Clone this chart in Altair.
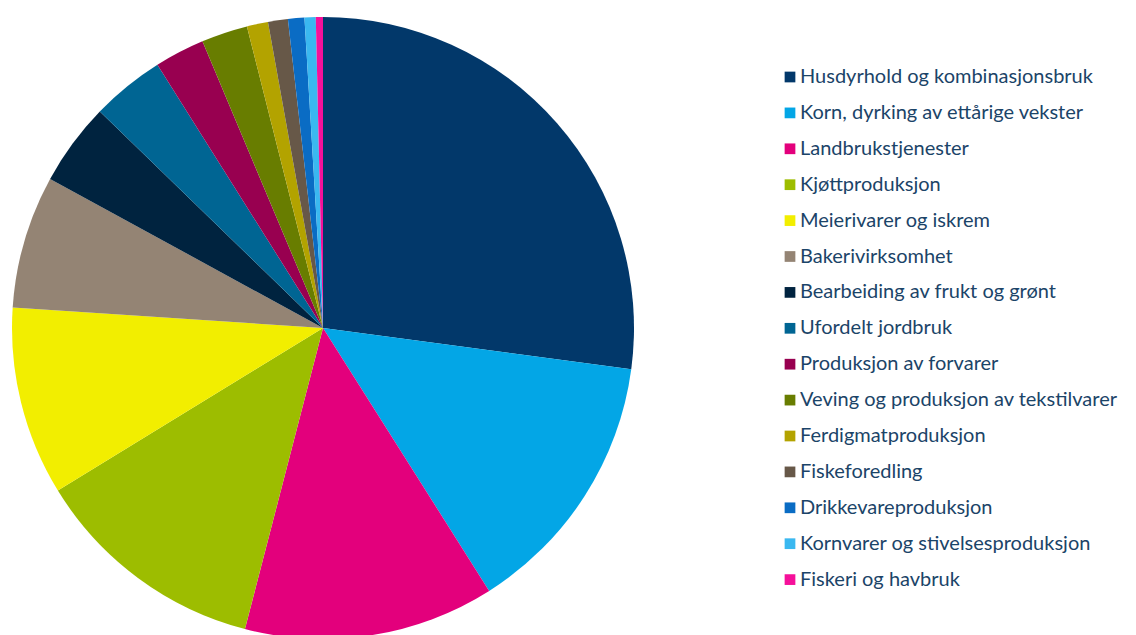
import altair as alt
import pandas as pd

categories = [
    "Husdyrhold og kombinasjonsbruk",
    "Korn, dyrking av ettårige vekster",
    "Landbrukstjenester",
    "Kjøttproduksjon",
    "Meierivarer og iskrem",
    "Bakerivirksomhet",
    "Bearbeiding av frukt og grønt",
    "Ufordelt jordbruk",
    "Produksjon av forvarer",
    "Veving og produksjon av tekstilvarer",
    "Ferdigmatproduksjon",
    "Fiskeforedling",
    "Drikkevareproduksjon",
    "Kornvarer og stivelsesproduksjon",
    "Fiskeri og havbruk",
]
values = [27.1, 13.9, 13.0, 12.2, 9.8, 6.9, 4.3, 3.8, 2.6, 2.4, 1.1, 1.03, 0.85, 0.58, 0.37]
colors = [
    "#02386A", "#03A6E6", "#E3007C", "#9DBD00", "#F2EE00",
    "#948474", "#00233F", "#006593", "#980050", "#687D00",
    "#B3A300", "#675848", "#0A6CC4", "#3AB8F0", "#F5109A",
]

df = pd.DataFrame({"kategori": categories, "verdi": values, "rekke": list(range(len(categories)))})

chart = (
    alt.Chart(df)
    .mark_arc(radius=311, strokeWidth=0)
    .encode(
        theta=alt.Theta("verdi:Q", stack=True),
        order=alt.Order("rekke:Q"),
        x=alt.value(315),
        y=alt.value(320),
        color=alt.Color(
            "kategori:N",
            sort=categories,
            scale=alt.Scale(domain=categories, range=colors),
            legend=alt.Legend(
                title=None,
                orient="none",
                legendX=772,
                legendY=59,
                padding=0,
                symbolType="square",
                symbolSize=115,
                symbolStrokeWidth=0,
                labelFont="Lato",
                labelFontSize=20,
                labelColor="#1B4468",
                labelLimit=400,
                labelOffset=0,
                rowPadding=15.9,
            ),
        ),
    )
    .properties(
        width=1120,
        height=627,
        padding=0,
        autosize=alt.AutoSizeParams(type="none"),
    )
    .configure_view(stroke=None)
)

chart.save("out.html", embed_options={"renderer": "svg", "actions": False})
